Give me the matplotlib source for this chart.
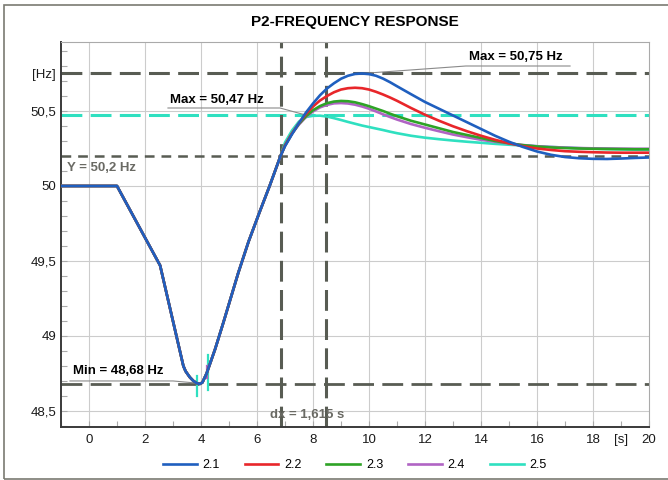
import matplotlib
matplotlib.use("Agg")
import matplotlib.pyplot as plt
from matplotlib.patches import Rectangle

plt.rcParams['font.family'] = ['Liberation Sans', 'DejaVu Sans']
plt.rcParams['lines.scale_dashes'] = False

# time points shared by all cases (disturbance and recovery up to ~7 s)
t_common = [-1, 1.0, 2.54, 3.37, 3.45, 3.6, 3.73, 3.85, 3.96, 4.05, 4.2, 4.5, 4.8,
            5.33, 5.7, 6.1, 6.45, 6.84]
f_common = [50.0, 50.0, 49.47, 48.80, 48.765, 48.725, 48.70, 48.685, 48.68, 48.69,
            48.75, 48.91, 49.09, 49.42, 49.63, 49.83, 50.0, 50.2]

# time points after the cases separate
t_tail = [7.0, 7.25, 7.5, 7.75, 8.0, 8.25, 8.5, 8.75, 9.0, 9.25, 9.5, 9.75, 10.0,
          10.25, 10.5, 10.75, 11.0, 11.5, 12.0, 12.5, 13.0, 13.5, 14.0, 14.5,
          15.0, 15.5, 16.0, 16.5, 17.0, 17.5, 18.0, 18.5, 19.0, 19.5, 20.0]
f_21 = [50.265, 50.345, 50.42, 50.49, 50.55, 50.605, 50.65, 50.685, 50.715, 50.735,
        50.747, 50.75, 50.746, 50.735, 50.716, 50.692, 50.665, 50.612, 50.56,
        50.515, 50.47, 50.425, 50.38, 50.335, 50.295, 50.26, 50.23, 50.208, 50.193,
        50.185, 50.181, 50.18, 50.183, 50.187, 50.19]
f_22 = [50.27, 50.35, 50.42, 50.48, 50.53, 50.57, 50.60, 50.625, 50.643, 50.652,
        50.655, 50.652, 50.643, 50.628, 50.61, 50.59, 50.568, 50.52, 50.475, 50.435,
        50.398, 50.365, 50.335, 50.308, 50.285, 50.265, 50.25, 50.24, 50.232, 50.228,
        50.225, 50.223, 50.222, 50.222, 50.222]
f_23 = [50.27, 50.35, 50.415, 50.465, 50.505, 50.533, 50.552, 50.563, 50.567,
        50.565, 50.558, 50.546, 50.532, 50.516, 50.50, 50.482, 50.465, 50.435,
        50.41, 50.385, 50.36, 50.34, 50.32, 50.30, 50.285, 50.272, 50.263, 50.257,
        50.253, 50.25, 50.248, 50.247, 50.246, 50.245, 50.245]
f_24 = [50.27, 50.35, 50.41, 50.46, 50.497, 50.524, 50.541, 50.551, 50.553, 50.55,
        50.542, 50.53, 50.515, 50.497, 50.478, 50.46, 50.443, 50.413, 50.388,
        50.365, 50.343, 50.325, 50.308, 50.295, 50.283, 50.273, 50.265, 50.26,
        50.256, 50.253, 50.251, 50.25, 50.249, 50.248, 50.248]
f_25 = [50.29, 50.37, 50.43, 50.46, 50.468, 50.469, 50.463, 50.452, 50.44, 50.427,
        50.415, 50.403, 50.393, 50.383, 50.373, 50.362, 50.352, 50.335, 50.322,
        50.312, 50.303, 50.295, 50.288, 50.281, 50.275, 50.27, 50.265, 50.26,
        50.256, 50.252, 50.249, 50.246, 50.244, 50.242, 50.24]

labels = ['2.1', '2.2', '2.3', '2.4', '2.5']
colors = ['#1f5fbf', '#e8262a', '#2ea326', '#b064c4', '#2fe0c0']
series = [f_21, f_22, f_23, f_24, f_25]

# cursor / measurement values
f_max_21 = 50.75
f_max_25 = 50.47
f_min = 48.68
f_y = 50.2
x_cursor1 = 6.855
dx = 1.615

# small spikes near the minimum (cases 2.5 and 2.4)
spike_t = [3.87, 4.24, 4.2]
spike_lo = [48.60, 48.64, 48.72]
spike_hi = [48.73, 48.87, 48.80]
spike_col = ['#2fe0c0', '#2fe0c0', '#b064c4']

x_ticks = [0, 2, 4, 6, 8, 10, 12, 14, 16, 18, 19, 20]
x_labels = ['0', '2', '4', '6', '8', '10', '12', '14', '16', '18', '[s]', '20']
y_ticks = [48.5, 49, 49.5, 50, 50.5, 50.75]
y_labels = ['48,5', '49', '49,5', '50', '50,5', '[Hz]']

fig = plt.figure(figsize=(6.68, 4.80), dpi=100)
ax = fig.add_axes([0.0913, 0.1104, 0.8803, 0.8021])

gray = '#585c53'
# gridlines
for xv in range(0, 20, 2):
    ax.axvline(xv, color='#cccccc', lw=0.8, zorder=0)
for yv in [48.5, 49, 49.5, 50, 50.5]:
    ax.axhline(yv, color='#cccccc', lw=0.8, zorder=0)

# cursor lines
ax.axhline(f_max_21, color=gray, lw=2.2, ls=(0, (15, 6)), zorder=2)
ax.axhline(f_max_25, color='#2fe0c0', lw=2.2, ls=(0, (15, 6)), zorder=2)
ax.axhline(f_y, color=gray, lw=1.8, ls=(0, (7, 5)), zorder=2)
ax.axhline(f_min, color=gray, lw=2.0, ls=(0, (15, 6)), zorder=2)
ax.axvline(x_cursor1, color=gray, lw=2.2, ls=(0, (15, 6)), zorder=2)
ax.axvline(x_cursor1 + dx, color=gray, lw=2.2, ls=(0, (15, 6)), zorder=2)

# curves
for i in range(len(series)):
    ax.plot(t_common + t_tail, f_common + series[i], color=colors[i], lw=1.9,
            label=labels[i], zorder=10 - i, solid_joinstyle='round')
for i in range(len(spike_t)):
    ax.plot([spike_t[i], spike_t[i]], [spike_lo[i], spike_hi[i]],
            color=spike_col[i], lw=1.6, zorder=4)

# annotation labels with underline and leader line
lc = '#8a8a8a'
ax.text(13.57, 50.86, 'Max = 50,75 Hz', fontsize=9.5, fontweight='bold', va='center')
ax.plot([9.75, 13.46, 17.18], [f_max_21, 50.80, 50.80], color=lc, lw=0.8, zorder=3)
ax.text(2.89, 50.573, 'Max = 50,47 Hz', fontsize=9.5, fontweight='bold', va='center')
ax.plot([2.82, 6.82, 7.8], [50.52, 50.52, f_max_25], color=lc, lw=0.8, zorder=3)
ax.text(-0.57, 48.765, 'Min = 48,68 Hz', fontsize=9.5, fontweight='bold', va='center')
ax.plot([-0.68, 3.0, 3.9], [48.70, 48.70, f_min + 0.005], color=lc, lw=0.8, zorder=3)
ax.text(-0.79, 50.12, 'Y = 50,2 Hz', fontsize=9.5, fontweight='bold', va='center',
        color='#6a6a64', zorder=12)
ax.text(6.46, 48.47, 'dx = 1,615 s', fontsize=9.5, fontweight='bold', va='center',
        color='#6a6a64', zorder=12)

ax.set_xlim(-1, 20)
ax.set_ylim(48.393, 50.96)
ax.set_xticks(x_ticks)
ax.set_xticklabels(x_labels)
ax.set_yticks(y_ticks)
ax.set_yticklabels(y_labels)
ax.set_xticks([v for v in range(-1, 20, 2)], minor=True)
ax.set_yticks([48.4 + 0.1 * k for k in range(26)], minor=True)
ax.tick_params(which='both', direction='in', colors='#aaaaaa', labelcolor='#1a1a1a',
               labelsize=9.5, length=4, width=0.8)
ax.tick_params(axis='x', pad=5)

ax.spines['left'].set_color('#3a3a3a')
ax.spines['bottom'].set_color('#3a3a3a')
ax.spines['left'].set_linewidth(1.4)
ax.spines['bottom'].set_linewidth(1.4)
ax.spines['top'].set_color('#aaaaaa')
ax.spines['right'].set_color('#aaaaaa')

fig.text(0.531, 0.955, 'P2-FREQUENCY RESPONSE', ha='center', va='center',
         fontsize=11, fontweight='bold')

fig.legend(loc='center', bbox_to_anchor=(0.531, 0.031), ncol=5, frameon=False,
           fontsize=9, handlelength=2.7, handletextpad=0.45, columnspacing=2.0)

# outer frame
fig.patches.append(Rectangle((0.0067, 0.003), 1.2, 0.986, transform=fig.transFigure,
                             fill=False, edgecolor='#7a7a72', lw=1.2))

plt.savefig('out.png', dpi=100)
